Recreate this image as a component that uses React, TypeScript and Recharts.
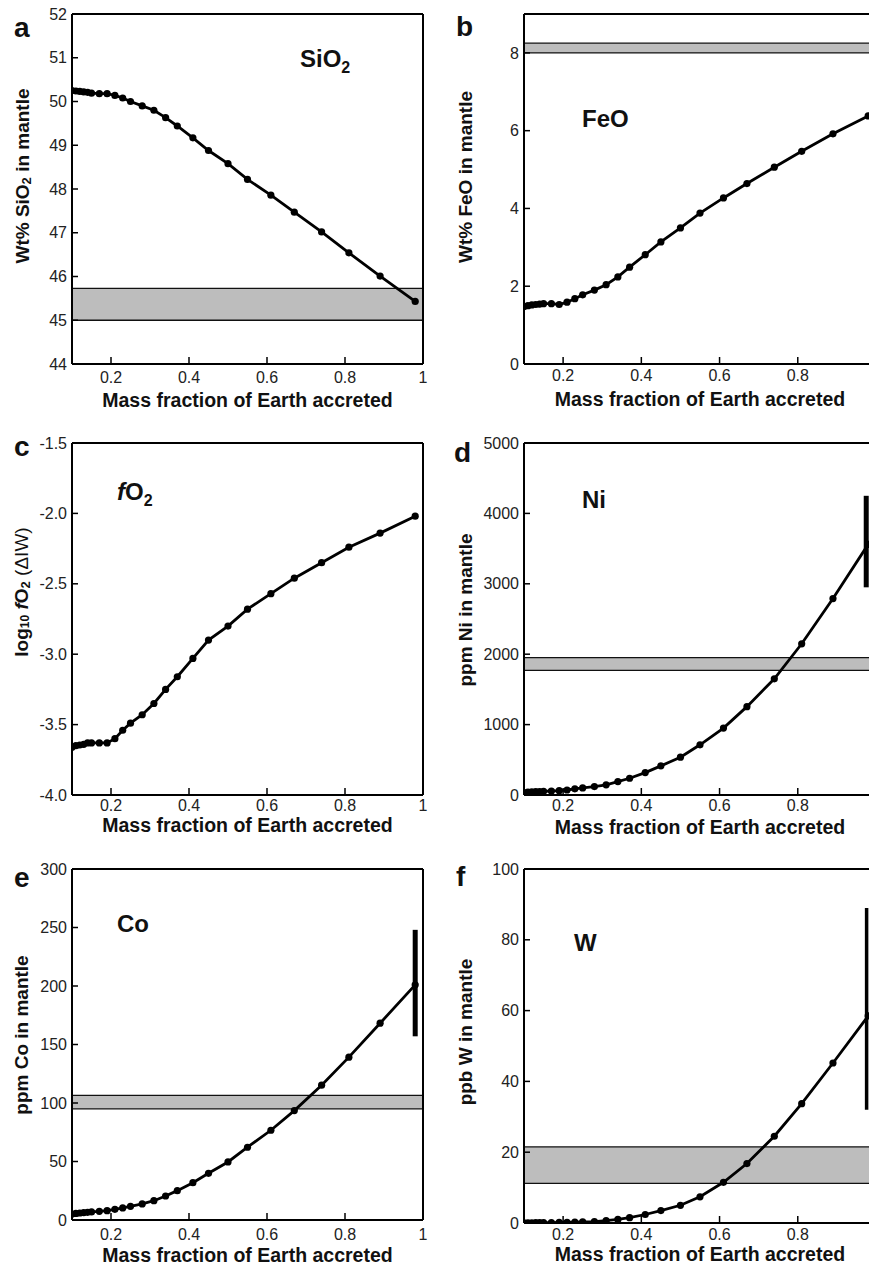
import React from 'react';
import { ComposedChart, Line, XAxis, YAxis, ReferenceArea, ReferenceLine } from 'recharts';

// mass fraction of Earth accreted (shared x for every panel)
const massFraction = [0.1, 0.11, 0.12, 0.13, 0.14, 0.15, 0.17, 0.19, 0.21, 0.23, 0.25, 0.28, 0.31, 0.34, 0.37, 0.41, 0.45, 0.5, 0.55, 0.61, 0.67, 0.74, 0.81, 0.89, 0.98];

const sio2 = [50.25, 50.24, 50.23, 50.22, 50.21, 50.19, 50.18, 50.18, 50.14, 50.08, 50.0, 49.9, 49.8, 49.63, 49.44, 49.17, 48.88, 48.58, 48.22, 47.86, 47.47, 47.02, 46.54, 46.01, 45.43];
const feo = [1.48, 1.5, 1.52, 1.53, 1.54, 1.55, 1.55, 1.53, 1.59, 1.68, 1.78, 1.9, 2.04, 2.24, 2.49, 2.81, 3.14, 3.5, 3.88, 4.27, 4.64, 5.06, 5.47, 5.92, 6.38];
const fo2 = [-3.66, -3.65, -3.645, -3.64, -3.63, -3.63, -3.63, -3.63, -3.6, -3.54, -3.49, -3.43, -3.35, -3.25, -3.16, -3.03, -2.9, -2.8, -2.68, -2.57, -2.46, -2.35, -2.24, -2.14, -2.02];
const ni = [33, 40, 45, 48, 50, 52, 57, 62, 71, 88, 100, 119, 145, 190, 238, 318, 414, 537, 713, 950, 1255, 1650, 2148, 2790, 3560];
const co = [5.1, 5.6, 6.0, 6.3, 6.6, 6.9, 7.4, 8.0, 9.1, 10.3, 11.7, 13.7, 16.5, 20.5, 25.1, 31.9, 39.9, 49.6, 62.2, 76.7, 93.5, 115.2, 139.2, 168.2, 201];
const w = [0.05, 0.06, 0.07, 0.08, 0.09, 0.1, 0.12, 0.15, 0.2, 0.25, 0.3, 0.4, 0.7, 1.0, 1.5, 2.4, 3.5, 5.0, 7.4, 11.5, 16.8, 24.5, 33.7, 45.2, 58.5];

// present-day mantle ranges (grey bands) and error bars
const sio2Band = [45.0, 45.73];
const feoBand = [8.0, 8.25];
const niBand = [1770, 1950];
const coBand = [95, 106.5];
const wBand = [11.2, 21.5];
const niErr = { x: 0.975, low: 2950, high: 4250 };
const coErr = { x: 0.98, low: 157, high: 248 };
const wErr = { x: 0.976, low: 32, high: 89 };

const xMajorTicks = [0.2, 0.4, 0.6, 0.8, 1];
const xMinorTicks = [0.1, 0.15, 0.2, 0.25, 0.3, 0.35, 0.4, 0.45, 0.5, 0.55, 0.6, 0.65, 0.7, 0.75, 0.8, 0.85, 0.9, 0.95, 1];
const sio2Ticks = [44, 45, 46, 47, 48, 49, 50, 51, 52];
const feoTicks = [0, 2, 4, 6, 8];
const fo2Ticks = [-4, -3.5, -3, -2.5, -2, -1.5];
const niTicks = [0, 1000, 2000, 3000, 4000, 5000];
const coTicks = [0, 50, 100, 150, 200, 250, 300];
const wTicks = [0, 20, 40, 60, 80, 100];

const FONT = '"Liberation Sans", Arial, Helvetica, sans-serif';

const rows = (ys: number[]) => massFraction.map((x, i) => ({ x, v: ys[i] }));
// right-hand panels are cropped at the page edge, so their "1" label is not seen
const croppedTicks = xMajorTicks.filter((t) => t < 1);

const panels = [
  {
    key: 'a', cell: { x: 0, y: 0, w: 440, h: 420 }, plot: { x: 72, y: 14, w: 351, h: 350 },
    data: rows(sio2), domain: [44, 52], yTicks: sio2Ticks, fmt: (v: number) => String(v), xTicks: xMajorTicks,
    band: sio2Band, err: null, tickMargin: 15, xTitleGap: 36,
    letter: { x: 14, y: 37 }, yTitle: { x: 22, y: 176 },
    name: { x: 300, y: 67, node: <>SiO<tspan dy={6} fontSize={16}>2</tspan></> },
    title: <>Wt% SiO<tspan dy={4} fontSize={13}>2</tspan><tspan dy={-4}> in mantle</tspan></>,
  },
  {
    key: 'b', cell: { x: 436, y: 0, w: 450, h: 420 }, plot: { x: 524, y: 14, w: 352, h: 350 },
    data: rows(feo), domain: [0, 9], yTicks: feoTicks, fmt: (v: number) => String(v), xTicks: croppedTicks,
    band: feoBand, err: null, tickMargin: 13, xTitleGap: 35,
    letter: { x: 456, y: 36 }, yTitle: { x: 465, y: 177 },
    name: { x: 582, y: 127, node: <>FeO</> },
    title: <>Wt% FeO in mantle</>,
  },
  {
    key: 'c', cell: { x: 0, y: 420, w: 440, h: 420 }, plot: { x: 72, y: 443, w: 351, h: 352 },
    data: rows(fo2), domain: [-4, -1.5], yTicks: fo2Ticks, fmt: (v: number) => v.toFixed(1), xTicks: xMajorTicks,
    band: null, err: null, tickMargin: 12, xTitleGap: 30,
    letter: { x: 14, y: 456 }, yTitle: { x: 21, y: 592 },
    name: { x: 117, y: 500, node: <><tspan fontStyle="italic">f</tspan>O<tspan dy={6} fontSize={16}>2</tspan></> },
    title: (
      <>
        log<tspan dy={4} fontSize={12}>10</tspan>
        <tspan dy={-4} fontStyle="italic"> f</tspan>O<tspan dy={4} fontSize={13}>2</tspan>
        <tspan dy={-4} fontWeight="normal"> (ΔIW)</tspan>
      </>
    ),
  },
  {
    key: 'd', cell: { x: 436, y: 420, w: 450, h: 420 }, plot: { x: 524, y: 443, w: 352, h: 352 },
    data: rows(ni), domain: [0, 5000], yTicks: niTicks, fmt: (v: number) => String(v), xTicks: croppedTicks,
    band: niBand, err: niErr, errWidth: 5, tickMargin: 12, xTitleGap: 32,
    letter: { x: 454, y: 462 }, yTitle: { x: 465, y: 610 },
    name: { x: 582, y: 508, node: <>Ni</> },
    title: <>ppm Ni in mantle</>,
  },
  {
    key: 'e', cell: { x: 0, y: 840, w: 440, h: 427 }, plot: { x: 72, y: 869, w: 351, h: 351 },
    data: rows(co), domain: [0, 300], yTicks: coTicks, fmt: (v: number) => String(v), xTicks: xMajorTicks,
    band: coBand, err: coErr, errWidth: 5, tickMargin: 16, xTitleGap: 35,
    letter: { x: 14, y: 887 }, yTitle: { x: 21, y: 1035 },
    name: { x: 117, y: 932, node: <>Co</> },
    title: <>ppm Co in mantle</>,
  },
  {
    key: 'f', cell: { x: 436, y: 840, w: 450, h: 427 }, plot: { x: 524, y: 869, w: 352, h: 354 },
    data: rows(w), domain: [0, 100], yTicks: wTicks, fmt: (v: number) => String(v), xTicks: croppedTicks,
    band: wBand, err: wErr, errWidth: 3.5, tickMargin: 13, xTitleGap: 31,
    letter: { x: 456, y: 886 }, yTitle: { x: 465, y: 1032 },
    name: { x: 574, y: 951, node: <>W</> },
    title: <>ppb W in mantle</>,
  },
];

const axisLine = { stroke: '#000', strokeWidth: 2 };
const tickLine = { stroke: '#000', strokeWidth: 1.5 };
const tickText = { fill: '#222', fontSize: 16, fontFamily: FONT };

function Panel({ p }: { p: any }) {
  const { cell, plot } = p;
  // labelled axes take 1px each (an axis of size 0 is not drawn)
  const margin = {
    left: plot.x - cell.x - 1,
    top: plot.y - cell.y,
    right: cell.x + cell.w - (plot.x + plot.w),
    bottom: cell.y + cell.h - (plot.y + plot.h) - 1,
  };
  const lx = (v: number) => v - cell.x;
  const ly = (v: number) => v - cell.y;
  const tx = lx(p.yTitle.x);
  const ty = ly(p.yTitle.y);
  const xCommon = { dataKey: 'x', type: 'number' as const, domain: [0.1, 1], allowDataOverflow: true, interval: 0 as const, height: 1 };
  const yCommon = { type: 'number' as const, domain: p.domain, allowDataOverflow: true, ticks: p.yTicks, interval: 0 as const, width: 1 };
  return (
    <div style={{ position: 'absolute', left: cell.x, top: cell.y }}>
      <ComposedChart width={cell.w} height={cell.h} data={p.data} margin={margin}>
        <XAxis xAxisId="x" {...xCommon} ticks={p.xTicks} tickSize={-7} tickMargin={p.tickMargin}
          tick={tickText} tickLine={tickLine} axisLine={axisLine} />
        <XAxis xAxisId="xm" {...xCommon} mirror ticks={xMinorTicks} tickSize={4} tick={false} tickLine={tickLine} axisLine={false} />
        <XAxis xAxisId="xt" {...xCommon} orientation="top" mirror ticks={xMajorTicks} tickSize={7} tick={false}
          tickLine={tickLine} axisLine={axisLine} />
        <XAxis xAxisId="xtm" {...xCommon} orientation="top" mirror ticks={xMinorTicks} tickSize={4} tick={false}
          tickLine={tickLine} axisLine={false} />
        <YAxis yAxisId="y" {...yCommon} tickSize={-6} tickMargin={11} tickFormatter={p.fmt} tick={tickText}
          tickLine={tickLine} axisLine={axisLine} />
        <YAxis yAxisId="yr" {...yCommon} orientation="right" mirror tickSize={6} tick={false} tickLine={tickLine} axisLine={axisLine} />
        {p.band && (
          <ReferenceArea xAxisId="x" yAxisId="y" y1={p.band[0]} y2={p.band[1]} fill="#bdbdbd" fillOpacity={1}
            stroke="#111" strokeWidth={1.3} ifOverflow="hidden" />
        )}
        <Line xAxisId="x" yAxisId="y" dataKey="v" type="linear" stroke="#000" strokeWidth={2.8}
          dot={{ r: 3.6, fill: '#000', stroke: 'none' }} isAnimationActive={false} />
        {p.err && (
          <ReferenceLine xAxisId="x" yAxisId="y" ifOverflow="visible" stroke="#000" strokeWidth={p.errWidth}
            segment={[{ x: p.err.x, y: p.err.low }, { x: p.err.x, y: p.err.high }]} />
        )}
        <text x={lx(p.letter.x)} y={ly(p.letter.y)} fontFamily={FONT} fontWeight="bold" fontSize={28} fill="#111">{p.key}</text>
        <text x={lx(p.name.x)} y={ly(p.name.y)} fontFamily={FONT} fontWeight="bold" fontSize={24} fill="#111">{p.name.node}</text>
        <text x={tx} y={ty} transform={`rotate(-90 ${tx} ${ty})`} textAnchor="middle" dominantBaseline="central"
          fontFamily={FONT} fontWeight="bold" fontSize={19} fill="#111">{p.title}</text>
        <text x={lx(plot.x + plot.w / 2)} y={ly(plot.y + plot.h + p.xTitleGap)} textAnchor="middle" dominantBaseline="central"
          fontFamily={FONT} fontWeight="bold" fontSize={19.5} fill="#111">Mass fraction of Earth accreted</text>
      </ComposedChart>
    </div>
  );
}

export default function App() {
  return (
    <div style={{ position: 'absolute', left: 0, top: 0, width: 869, height: 1267, overflow: 'hidden', background: '#fff' }}>
      {panels.map((p) => (
        <Panel key={p.key} p={p} />
      ))}
    </div>
  );
}
